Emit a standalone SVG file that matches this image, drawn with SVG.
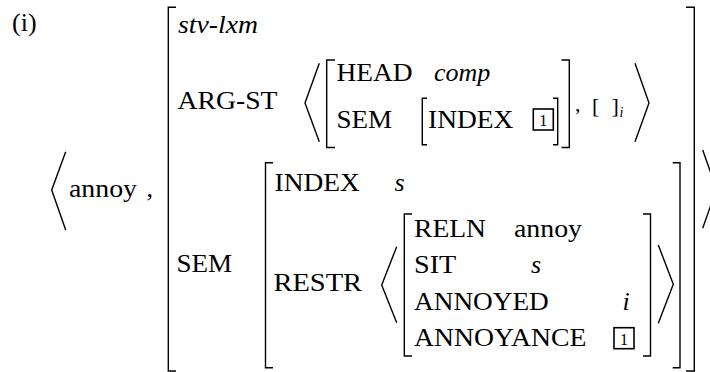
<svg xmlns="http://www.w3.org/2000/svg" width="710" height="372" viewBox="0 0 710 372">
<style>
text{fill:#000;font-family:'Liberation Serif','DejaVu Serif',serif}
.t{font-size:26px}
.it{font-style:italic}
.sm{font-size:22px}
.sub{font-size:14px;font-style:italic}
.num{font-size:16px;text-anchor:middle}
.br{fill:none;stroke:#000;stroke-width:1.4}
.box{fill:none;stroke:#000;stroke-width:1.6}
</style>
<rect width="710" height="372" fill="#fff"/>
<g id="label">
<text class="t" x="12" y="31">(i)</text>
</g>
<g id="outer-list">
<path class="br" d="M65.7,151.7 L51.7,190 L65.7,230"/>
<text class="t" x="69" y="197" textLength="68" lengthAdjust="spacingAndGlyphs">annoy</text>
<text class="t" x="146.5" y="197">,</text>
<path class="br" d="M702.7,150 L716.5,189 L702.7,228.3"/>
</g>
<g id="outer-avm">
<path class="br" d="M176,7.3 H168.3 V371 H176"/>
<path class="br" d="M686,7.3 H694.3 V371 H686"/>
<text class="t it" x="178" y="33" textLength="80" lengthAdjust="spacingAndGlyphs">stv-lxm</text>
<text class="t" x="177.5" y="109" textLength="100" lengthAdjust="spacingAndGlyphs">ARG-ST</text>
<text class="t" x="176.5" y="272" textLength="55.6" lengthAdjust="spacingAndGlyphs">SEM</text>
</g>
<g id="arg-st">
<path class="br" d="M319.3,63.3 L305,103 L319.3,141.7"/>
<path class="br" d="M635,63.3 L649,103 L635,141.7"/>
<path class="br" d="M335,60 H326.7 V147.5 H335"/>
<path class="br" d="M561.5,60 H569.3 V147.5 H561.5"/>
<text class="t" x="336.5" y="81" textLength="76" lengthAdjust="spacingAndGlyphs">HEAD</text>
<text class="t it" x="434" y="81">comp</text>
<text class="t" x="336.5" y="128" textLength="55.6" lengthAdjust="spacingAndGlyphs">SEM</text>
<path class="br" d="M427,98.3 H422.3 V144.7 H427"/>
<path class="br" d="M553,98.3 H557.7 V144.7 H553"/>
<text class="t" x="428" y="128" textLength="85.3" lengthAdjust="spacingAndGlyphs">INDEX</text>
<rect class="box" x="533.3" y="109" width="20" height="21"/>
<text class="num" x="543.3" y="126">1</text>
<text class="t sm" x="575" y="110.5">,</text>
<text class="t sm" x="592" y="112.5">[</text>
<text class="t sm" x="611.5" y="112.5">]</text>
<text class="t sub" x="619.5" y="116.5">i</text>
</g>
<g id="sem">
<path class="br" d="M273,162.7 H265.5 V367.7 H273"/>
<path class="br" d="M672.7,162.7 H680 V367.7 H672.7"/>
<text class="t" x="274.5" y="191" textLength="85.3" lengthAdjust="spacingAndGlyphs">INDEX</text>
<text class="t it" x="394.5" y="191">s</text>
<text class="t" x="273.5" y="291" textLength="88.5" lengthAdjust="spacingAndGlyphs">RESTR</text>
</g>
<g id="restr">
<path class="br" d="M396.7,246.7 L381.7,285 L396.7,322.7"/>
<path class="br" d="M658.3,245 L673.3,284.3 L658.3,323.3"/>
<path class="br" d="M412,214 H404.3 V356 H412"/>
<path class="br" d="M643,214 H650.5 V356 H643"/>
<text class="t" x="414" y="237" textLength="72" lengthAdjust="spacingAndGlyphs">RELN</text>
<text class="t" x="514" y="237" textLength="68" lengthAdjust="spacingAndGlyphs">annoy</text>
<text class="t" x="414" y="273.3" textLength="42.3" lengthAdjust="spacingAndGlyphs">SIT</text>
<text class="t it" x="531" y="273.3">s</text>
<text class="t" x="414" y="310" textLength="134.8" lengthAdjust="spacingAndGlyphs">ANNOYED</text>
<text class="t it" x="622.5" y="310">i</text>
<text class="t" x="414" y="346" textLength="172.4" lengthAdjust="spacingAndGlyphs">ANNOYANCE</text>
<rect class="box" x="614" y="327.7" width="20" height="21"/>
<text class="num" x="624" y="344.7">1</text>
</g>
</svg>
